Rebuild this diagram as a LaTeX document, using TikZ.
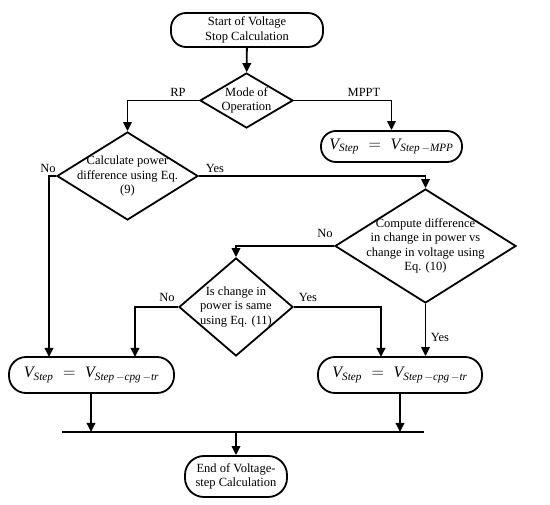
\documentclass[tikz,border=0pt]{standalone}
\usepackage{fontspec}
\setmainfont{Liberation Serif}
\usetikzlibrary{shapes.geometric,arrows.meta}
\newcommand\mi[1]{\mathit{#1}}
\begin{document}
\begin{tikzpicture}[x=1pt,y=-1pt,
  every node/.style={font=\fontsize{12.5}{14.5}\selectfont},
  ln/.style={line width=1.8pt},
  arr/.style={ln,-{Triangle[length=9pt,width=8.5pt]}},
  term/.style={draw,line width=1.8pt,rounded corners=15pt,align=center,inner sep=0pt},
  dec/.style={draw,line width=1.8pt,diamond,inner sep=0pt},
  dtext/.style={align=center,inner sep=0pt},
  lbl/.style={inner sep=1pt},
  mth/.style={font=\fontsize{16}{18}\selectfont}]
\useasboundingbox (0,0) rectangle (550,505);
\node[term,minimum width=152pt,minimum height=34pt] (start) at (247,30) {Start of Voltage\\Stop Calculation};
\node[dec,minimum width=93pt,minimum height=55pt] (d1) at (246.5,100.5) {};
\node[dtext] (t1) at (d1.center) {Mode of\\Operation};
\node[term,mth,minimum width=141pt,minimum height=31pt] (mppt) at (391.5,146.5) {$\mi{V}_{\mi{Step}}\;=\;\mi{V}_{\mi{Step}\,-\mi{MPP}}$};
\node[dec,minimum width=141pt,minimum height=88pt] (d2) at (127.5,176) {};
\node[dtext] (t2) at (d2.center) {Calculate power\\difference using Eq.\\(9)};
\node[dec,minimum width=181pt,minimum height=114pt] (d3) at (425.5,246) {};
\node[dtext] (t3) at (d3.center) {Compute difference\\in change in power vs\\change in voltage using\\Eq. (10)};
\node[dec,minimum width=114pt,minimum height=98pt] (d4) at (236,307) {};
\node[dtext] (t4) at (d4.center) {Is change in\\power is same\\using Eq. (11)};
\node[term,mth,rounded corners=17pt,minimum width=165pt,minimum height=36pt] (lbox) at (91.5,375) {$\mi{V}_{\mi{Step}}\;=\;\mi{V}_{\mi{Step}\,-\mi{cpg}\,-\mi{tr}}$};
\node[term,mth,rounded corners=17pt,minimum width=164pt,minimum height=36pt] (rbox) at (400,375) {$\mi{V}_{\mi{Step}}\;=\;\mi{V}_{\mi{Step}\,-\mi{cpg}\,-\mi{tr}}$};
\node[term,rounded corners=19pt,minimum width=102pt,minimum height=41pt] (end) at (236,476.5) {End of Voltage-\\step Calculation};
% bus
\coordinate (busL) at (62,432);
\coordinate (busR) at (424,432);
\draw[ln] (busL) -- (busR);
% connectors
\draw[arr] (start) -- (d1);
\draw[arr] (d1.west) -| (d2.north);
\draw[arr] (d1.east) -| (mppt.north);
\draw[arr] (d2.west) -- (49,176) -- (49,357);
\draw[arr] (d2.east) -| (d3.north);
\draw[arr] (d3.west) -| (d4.north);
\draw[arr] (d4.west) -- (135,307) -- (135,357);
\draw[arr] (d4.east) -- (381,307) -- (381,357);
\draw[arr] (d3.south) -- (d3.south |- rbox.north);
\draw[arr] (91,393) -- (91,432);
\draw[arr] (400,393) -- (400,432);
\draw[arr] (236,432) -- (end.north);
% labels
\node[lbl] (lrp) at (178,92) {RP};
\node[lbl] (lmppt) at (364,92) {MPPT};
\node[lbl] (lno2) at (48,168) {No};
\node[lbl] (lyes2) at (215,168) {Yes};
\node[lbl] (lno3) at (325,233) {No};
\node[lbl] (lno4) at (167,297) {No};
\node[lbl] (lyes4) at (308,297) {Yes};
\node[lbl] (lyes3) at (440,337) {Yes};
\end{tikzpicture}
\end{document}
